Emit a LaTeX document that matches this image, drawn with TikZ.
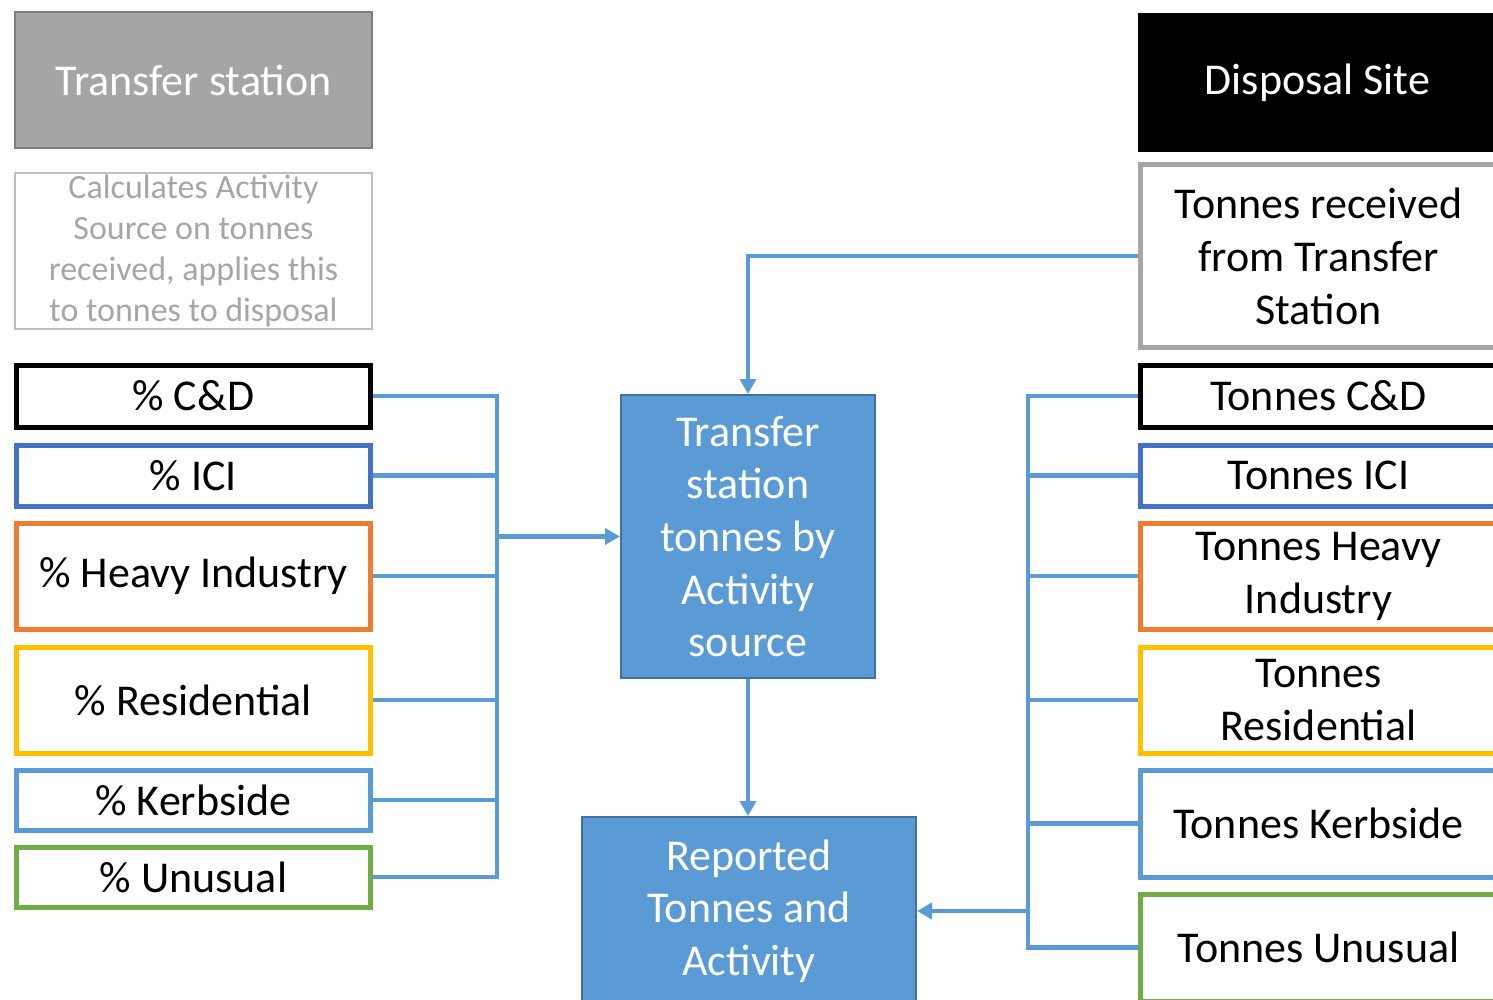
\documentclass[tikz,border=0pt]{standalone}
\usepackage{fontspec}
\setmainfont{Carlito}
\usetikzlibrary{arrows.meta}
\definecolor{hdrgray}{HTML}{A5A5A5}
\definecolor{hdrdraw}{HTML}{7F7F7F}
\definecolor{lightgray}{HTML}{BFBFBF}
\definecolor{txtgray}{HTML}{A6A6A6}
\definecolor{icib}{HTML}{4472C4}
\definecolor{heavyo}{HTML}{ED7D31}
\definecolor{resy}{HTML}{FFC000}
\definecolor{kerbb}{HTML}{5B9BD5}
\definecolor{unusg}{HTML}{70AD47}
\definecolor{procfill}{HTML}{5B9BD5}
\definecolor{procdraw}{HTML}{41719C}
\definecolor{connc}{HTML}{5B9BD5}
\tikzset{
  catbox/.style={draw, line width=5pt, fill=white, inner sep=0pt, minimum width=354pt, align=center, font=\fontsize{44}{53}\selectfont},
  procbox/.style={draw=procdraw, fill=procfill, line width=2pt, inner sep=0pt, align=center, text=white, font=\fontsize{44}{52.7}\selectfont},
  conn/.style={draw=connc, line width=4.5pt},
  arr/.style={conn, -{Triangle[length=15pt,width=16pt]}}
}
\begin{document}
\begin{tikzpicture}[x=1pt,y=-1pt]
\useasboundingbox (0,0) rectangle (1493,1000);
% left column
\node[draw=hdrdraw, fill=hdrgray, line width=2pt, minimum width=357pt, minimum height=136pt, inner sep=0pt, text=white, font=\fontsize{44}{53}\selectfont] (tshdr) at (193.5,80) {Transfer station};
\node[draw=lightgray, line width=1.5pt, minimum width=357pt, minimum height=156pt, inner sep=0pt, text=txtgray, align=center, font=\fontsize{34}{41}\selectfont] (calc) at (193.5,251) {Calculates Activity\\Source on tonnes\\received, applies this\\to tonnes to disposal};
\node[catbox, draw=black, minimum height=62pt] (lcd) at (193.5,396) {\% C\&D};
\node[catbox, draw=icib, minimum height=61pt] (lici) at (193.5,475.5) {\% ICI};
\node[catbox, draw=heavyo, minimum height=106pt] (lheavy) at (193.5,576) {\% Heavy Industry};
\node[catbox, draw=resy, minimum height=106pt] (lres) at (193.5,700) {\% Residential};
\node[catbox, draw=kerbb, minimum height=60pt] (lkerb) at (193.5,800) {\% Kerbside};
\node[catbox, draw=unusg, minimum height=60pt] (lunus) at (193.5,877) {\% Unusual};
% middle
\node[procbox, minimum width=254pt, minimum height=283pt] (tsa) at (748,536.5) {Transfer\\station\\tonnes by\\Activity\\source};
\node[procbox, minimum width=334pt, minimum height=188pt] (rep) at (749,911) {Reported\\Tonnes and\\Activity};
% right column
\node[fill=black, minimum width=359pt, minimum height=139pt, inner sep=0pt, text=white, font=\fontsize{44}{53}\selectfont] (dshdr) at (1317.5,83) {Disposal Site};
\node[catbox, draw=txtgray, minimum width=356pt, minimum height=182pt] (trecv) at (1318.5,256) {Tonnes received\\from Transfer\\Station};
\node[catbox, draw=black, minimum width=356pt, minimum height=62pt] (rcd) at (1318.5,396) {Tonnes C\&D};
\node[catbox, draw=icib, minimum width=356pt, minimum height=61pt] (rici) at (1318.5,475.5) {Tonnes ICI};
\node[catbox, draw=heavyo, minimum width=356pt, minimum height=106pt] (rheavy) at (1318.5,576) {Tonnes Heavy\\Industry};
\node[catbox, draw=resy, minimum width=356pt, minimum height=106pt] (rres) at (1318.5,700) {Tonnes\\Residential};
\node[catbox, draw=kerbb, minimum width=356pt, minimum height=107pt] (rkerb) at (1318.5,823.5) {Tonnes Kerbside};
\node[catbox, draw=unusg, minimum width=356pt, minimum height=107pt] (runus) at (1318.5,947.5) {Tonnes Unusual};
% buses
\coordinate (lbus) at (497,0);
\coordinate (rbus) at (1028,0);
\foreach \n in {lcd,lici,lheavy,lres,lkerb,lunus}
  \draw[conn] (\n.east) -- (\n.east -| lbus);
\draw[conn, line cap=rect] (lcd.east -| lbus) -- (lunus.east -| lbus);
\draw[arr] (lbus |- tsa.west) -- (tsa.west);
\foreach \n in {rcd,rici,rheavy,rres,rkerb,runus}
  \draw[conn] (\n.west) -- (\n.west -| rbus);
\draw[conn, line cap=rect] (rcd.west -| rbus) -- (runus.west -| rbus);
\draw[arr] (rbus |- rep.east) -- (rep.east);
\draw[arr] (trecv.west) -| (tsa.north);
\draw[arr] (tsa.south) -- (tsa.south |- rep.north);
\end{tikzpicture}
\end{document}
